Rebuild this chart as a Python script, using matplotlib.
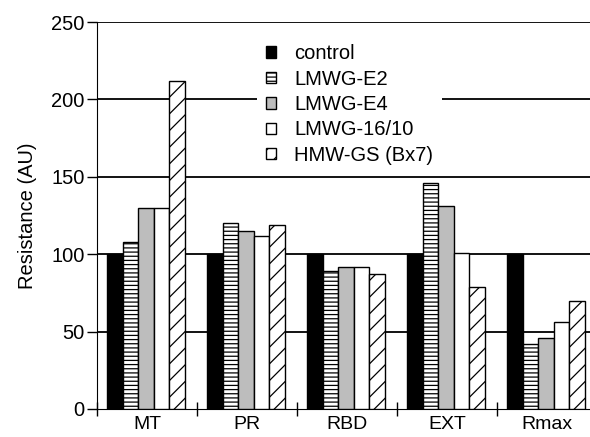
import numpy as np
import matplotlib.pyplot as plt

plt.rcParams['font.family'] = ['Liberation Sans', 'DejaVu Sans']
plt.rcParams['hatch.linewidth'] = 0.9

groups = ['MT', 'PR', 'RBD', 'EXT', 'Rmax']
series = ['control', 'LMWG-E2', 'LMWG-E4', 'LMWG-16/10', 'HMW-GS (Bx7)']
control = [100, 100, 100, 100, 100]
e2 = [108, 120, 89, 146, 42]
e4 = [130, 115, 92, 131, 46]
lmw1610 = [130, 112, 92, 101, 56]
hmw = [212, 119, 87, 79, 70]
values = [control, e2, e4, lmw1610, hmw]

faces = ['black', 'white', '#bdbdbd', 'white', 'white']
hatches = [None, '----', None, None, '//']

fig = plt.figure(figsize=(5.9, 4.37), dpi=100)
ax = fig.add_axes([97/590, 28/437, 493/590, 387/437])

x = np.arange(len(groups))
w = 0.156
for i, (vals, fc, h) in enumerate(zip(values, faces, hatches)):
    ax.bar(x + 0.1 + w*i, vals, width=w, align='edge', color=fc, edgecolor='black',
           linewidth=1.0, hatch=h, label=series[i], zorder=3)

for yv in [50, 100, 150, 200, 250]:
    ax.axhline(yv, color='black', lw=1.3, zorder=1)

fs = 14.5
ax.set_xlim(0, 4.93)
ax.set_ylim(0, 250)
ax.set_yticks([0, 50, 100, 150, 200, 250])
ax.set_xticks(np.arange(0, 5))
ax.set_xticklabels([])
ax.set_xticks(x + 0.5, minor=True)
ax.set_xticklabels(groups, minor=True, fontsize=14)
ax.tick_params(axis='x', which='minor', length=0, pad=5)
ax.tick_params(axis='x', which='major', direction='inout', length=10, width=1)
ax.tick_params(axis='y', direction='out', length=7, width=1, labelsize=fs, pad=2)
for s in ['top', 'right']:
    ax.spines[s].set_visible(False)
ax.set_ylabel('Resistance (AU)', fontsize=fs, labelpad=10)

leg = ax.legend(loc='upper left', bbox_to_anchor=(257/590, 1 - 35/437),
                bbox_transform=fig.transFigure, fontsize=fs, frameon=True,
                handlelength=0.5, handleheight=0.5, handletextpad=0.9,
                labelspacing=0.32, borderpad=0.45, borderaxespad=0)
leg.get_frame().set_edgecolor('none')
leg.get_frame().set_facecolor('white')
leg.get_frame().set_alpha(1)
leg.set_zorder(5)

plt.savefig('out.png', dpi=100)
